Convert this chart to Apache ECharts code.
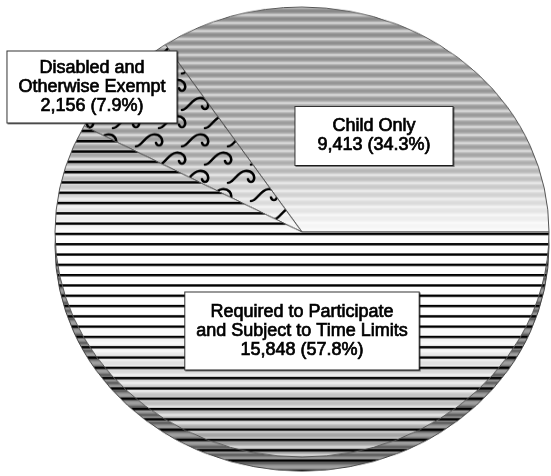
<!DOCTYPE html>
<html><head><meta charset="utf-8">
<script src="https://cdn.jsdelivr.net/npm/echarts@6/dist/echarts.min.js"></script>
<style>
html,body{margin:0;padding:0;background:#fff;overflow:hidden;width:551px;height:476px;}
#pie{position:absolute;left:0;top:-40px;width:551px;height:560px;transform-origin:0 272px;transform:scaleY(0.9109);}
#lab{position:absolute;left:0;top:0;width:551px;height:476px;}
</style></head><body>
<div id="pie"></div><div id="lab"></div>
<script>
// ---- data ----
const categories = ['Child Only', 'Disabled and\nOtherwise Exempt', 'Required to Participate\nand Subject to Time Limits'];
const values = [9413, 2156, 15848];

// ---- styling helpers (pattern fills) ----
const S = 225 / 247;           // vertical squash of the tilted pie
const H = 560, W = 46;
function finalY(Y) { return 232 + (Y - 272) * S; }
function toCanvasY(yf) { return 272 + (yf - 232) / S; }
function amp(yf) {
  if (yf < 150) return 1 - Math.max(0, yf - 7) / 143 * 0.2;
  if (yf < 235) return 0.8 * (235 - yf) / 85;
  if (yf < 325) return 0;
  return Math.min(0.9, (yf - 325) / 130 * 0.9);
}
function profile(yf) {
  let t = (((yf - 7) % 8) + 8) % 8 / 8;
  return Math.sin(Math.PI * t);
}
function makeCanvas() {
  const c = document.createElement('canvas');
  c.width = W; c.height = H;
  return c;
}
function drawStripes(ctx, dark) {
  for (let Y = 0; Y < H; Y++) {
    const yf = finalY(Y + 0.5);
    const p = profile(yf);
    let g;
    if (dark) g = Math.round(85 + 75 * p);
    else g = Math.round(255 - amp(yf) * (35 + 85 * p));
    ctx.fillStyle = 'rgb(' + g + ',' + g + ',' + g + ')';
    ctx.fillRect(0, Y, W, 1);
  }
}
function drawLines(ctx) {
  ctx.fillStyle = '#000';
  for (let k = -12; k < 30; k++) {
    const yl = 243 + 10.3 * k;
    if (yl < 120 || yl > 500) continue;
    ctx.fillRect(0, toCanvasY(yl), W, 2.4 / S);
  }
}
function drawWaves(ctx) {
  ctx.strokeStyle = '#000';
  ctx.lineWidth = 2.6;
  ctx.lineCap = 'round';
  const wave = (x, y) => {
    ctx.beginPath();
    ctx.moveTo(x - 8, y + 13);
    ctx.bezierCurveTo(x - 2, y + 13, x + 1, y + 1, x + 9, y);
    ctx.bezierCurveTo(x + 16, y - 1, x + 19, y + 5, x + 18, y + 9);
    ctx.bezierCurveTo(x + 17, y + 13, x + 13, y + 13, x + 12, y + 9);
    ctx.stroke();
  };
  for (let ty = -40; ty < H + 40; ty += 40) {
    for (let dx = -46; dx <= 46; dx += 46) {
      wave(6 + dx, ty + 5);
      wave(29 + dx, ty + 25);
    }
  }
}
const patChild = makeCanvas(); drawStripes(patChild.getContext('2d'), false);
const patDis = makeCanvas(); { const c = patDis.getContext('2d'); drawStripes(c, false); drawWaves(c); }
const patReq = makeCanvas(); { const c = patReq.getContext('2d'); drawStripes(c, false); drawLines(c); }
const patSide = makeCanvas(); { const c = patSide.getContext('2d'); drawStripes(c, true); drawLines(c); }
const patterns = [patChild, patDis, patReq];

// ---- pie (tilted, drawn squashed) ----
const pie = echarts.init(document.getElementById('pie'));
pie.setOption({
  animation: false,
  series: [
    {
      type: 'pie', silent: true, z: 1,
      center: [302, 272 + 14 / S], radius: 247,
      startAngle: 0, clockwise: false,
      label: { show: false }, labelLine: { show: false },
      itemStyle: { borderColor: '#444', borderWidth: 1 },
      data: [{ value: values.reduce((a, b) => a + b, 0), itemStyle: { color: { image: patSide, repeat: 'repeat' } } }]
    },
    {
      type: 'pie', silent: true, z: 2,
      center: [302, 272], radius: 247,
      startAngle: 0, clockwise: false,
      label: { show: false }, labelLine: { show: false },
      itemStyle: { borderColor: '#555', borderWidth: 1 },
      data: categories.map((c, i) => ({ name: c, value: values[i], itemStyle: { color: { image: patterns[i], repeat: 'repeat' } } }))
    }
  ]
});

// ---- labels ----
const labelPos = [[374, 136], [92, 87], [302, 331]];
const labelPad = [[10, 22], [7, 11], [10, 11]];
const lab = echarts.init(document.getElementById('lab'));
lab.setOption({
  animation: false,
  series: [{
    type: 'pie', silent: true,
    center: [302, 232], radius: 240,
    startAngle: 0, clockwise: false,
    percentPrecision: 1,
    avoidLabelOverlap: false,
    itemStyle: { color: 'rgba(0,0,0,0)' },
    labelLine: { show: false },
    label: {
      show: true, position: 'inside',
      fontFamily: 'Liberation Sans, Arial, sans-serif', fontSize: 18, lineHeight: 19,
      color: '#000', align: 'center',
      textBorderColor: '#000', textBorderWidth: 0.7,
      backgroundColor: '#fff', borderColor: '#333', borderWidth: 1,
      shadowColor: 'rgba(0,0,0,0.45)', shadowOffsetX: 1, shadowOffsetY: 1, shadowBlur: 0,
      formatter: p => p.name + '\n' + p.value.toLocaleString('en-US') + ' (' + p.percent.toFixed(1) + '%)'
    },
    labelLayout: p => ({ x: labelPos[p.dataIndex][0], y: labelPos[p.dataIndex][1], align: 'center', verticalAlign: 'middle' }),
    data: categories.map((c, i) => ({ name: c, value: values[i], label: { padding: labelPad[i] } }))
  }]
});
</script></body></html>
